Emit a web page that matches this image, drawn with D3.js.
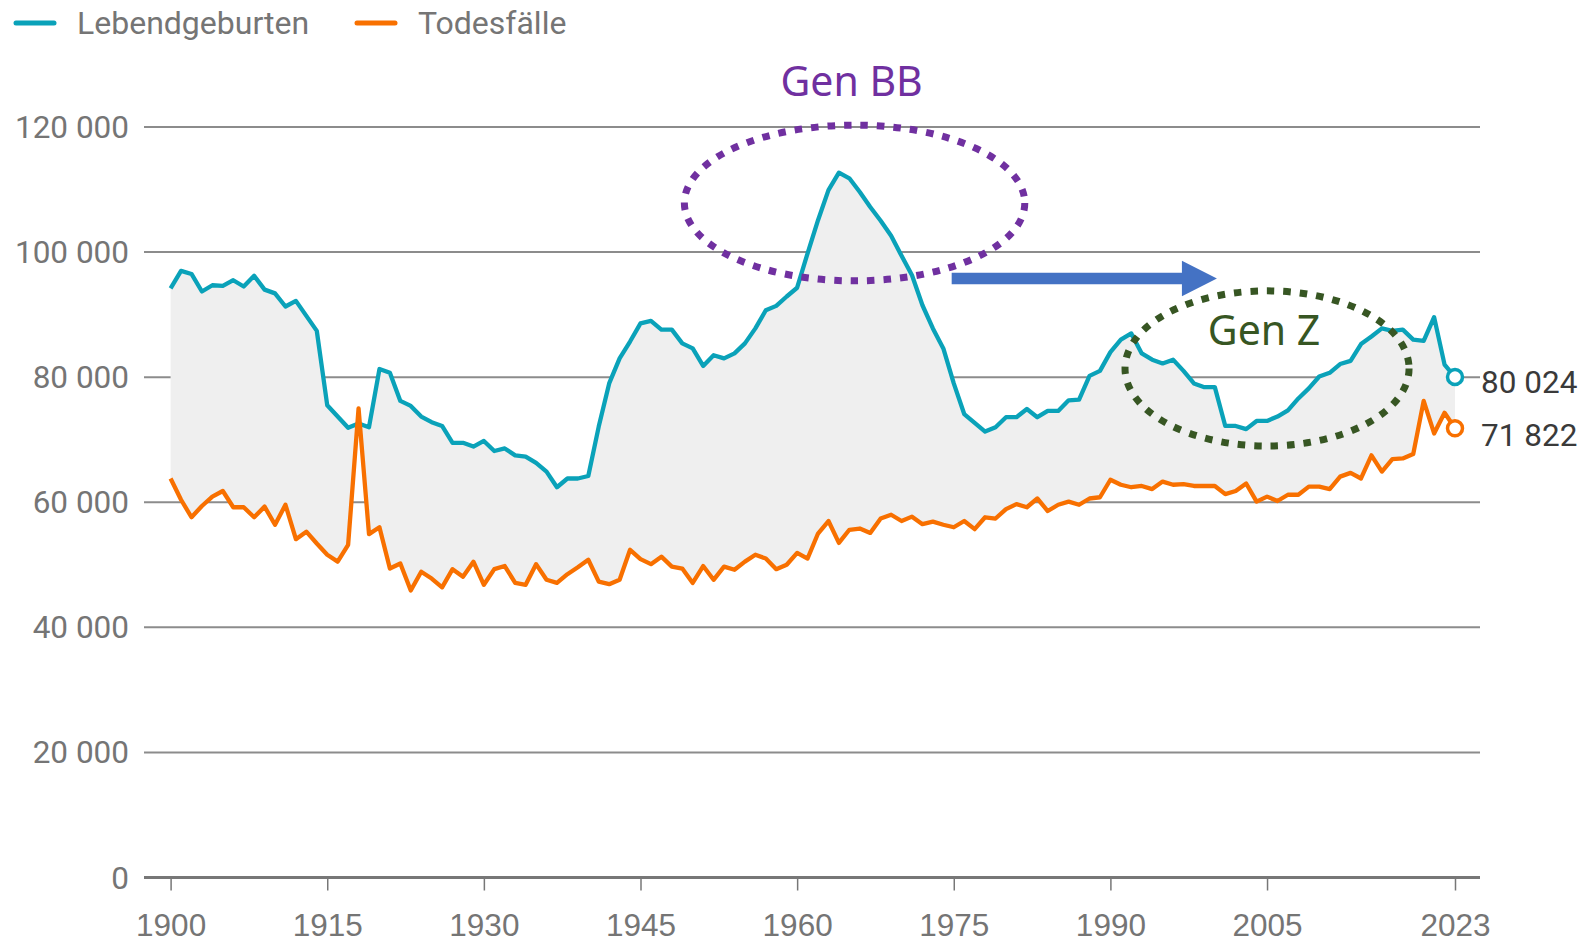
<!DOCTYPE html>
<html>
<head>
<meta charset="utf-8">
<script src="https://cdn.jsdelivr.net/npm/d3@7"></script>
<style>
  body { margin: 0; background: #fff; }
  svg { display: block; font-family: Roboto, "Noto Sans", sans-serif; }
  .grid line { stroke: #8c8c8c; stroke-width: 2; }
  .tick-label { fill: #757575; font-size: 31.5px; }
</style>
</head>
<body>
<svg id="chart" width="1583" height="942"></svg>
<script>
'use strict';

// Lebendgeburten / Todesfälle, 1900 - 2023
var firstYear = 1900, lastYear = 2023;
var seriesNames = ["Lebendgeburten", "Todesfälle"];
var xTicks = [1900, 1915, 1930, 1945, 1960, 1975, 1990, 2005, 2023];
var yTicks = [0, 20000, 40000, 60000, 80000, 100000, 120000];

var births = [
  94200, 97000, 96500, 93700, 94700, 94600, 95500, 94500, 96200, 94000,
  93400, 91300, 92200, 89800, 87400, 75500, 73700, 71900, 72600, 72000,
  81300, 80700, 76200, 75400, 73700, 72800, 72200, 69500, 69500, 68900,
  69800, 68200, 68600, 67500, 67300, 66300, 64900, 62400, 63800, 63800,
  64200, 72100, 79000, 83000, 85700, 88600, 89000, 87600, 87600, 85400,
  84600, 81800, 83500, 83000, 83800, 85400, 87800, 90700, 91400, 92900,
  94300, 99800, 105100, 109900, 112700, 111800, 109600, 107200, 105000, 102600,
  99400, 96300, 91500, 87800, 84600, 79000, 74100, 72700, 71300, 72000,
  73600, 73600, 74900, 73600, 74600, 74600, 76300, 76400, 80200, 81000,
  84000, 86000, 87000, 83800, 82800, 82200, 82800, 81000, 79000, 78400,
  78400, 72200, 72200, 71700, 73000, 73000, 73700, 74700, 76600, 78200,
  80100, 80700, 82100, 82600, 85300, 86500, 87800, 87400, 87600, 86000,
  85800, 89600, 82000, 80024
];

var deaths = [
  63800, 60400, 57600, 59400, 60900, 61800, 59200, 59200, 57600, 59300,
  56400, 59600, 54100, 55300, 53400, 51600, 50500, 53200, 75000, 54900,
  56000, 49400, 50200, 45900, 48900, 47800, 46400, 49300, 48100, 50500,
  46800, 49300, 49800, 47100, 46800, 50100, 47600, 47100, 48500, 49600,
  50800, 47300, 46900, 47600, 52400, 50900, 50100, 51300, 49700, 49400,
  47100, 49800, 47600, 49700, 49200, 50500, 51600, 51000, 49300, 50000,
  51900, 51000, 55000, 57000, 53500, 55600, 55800, 55100, 57400, 58000,
  57000, 57700, 56500, 56900, 56400, 56000, 57000, 55700, 57600, 57400,
  58900, 59700, 59200, 60600, 58600, 59600, 60100, 59600, 60600, 60800,
  63600, 62800, 62400, 62600, 62100, 63300, 62800, 62900, 62600, 62600,
  62600, 61300, 61800, 63000, 60100, 60900, 60200, 61200, 61200, 62500,
  62500, 62100, 64100, 64700, 63800, 67500, 64900, 66900, 67000, 67700,
  76200, 71000, 74300, 71822
];

var colors = ["#0aa2b9", "#f87000"];

// annotations
var genBB = {label: "Gen BB", color: "#7030a0", from: 1949.2, to: 1981.8, top: 120300, bottom: 95400};
var genZ = {label: "Gen Z", color: "#375623", from: 1991.4, to: 2018.6, top: 93800, bottom: 69000};
var arrowSpan = [1974.8, 2000.2];

var years = d3.range(firstYear, lastYear + 1);
var data = years.map(function (yr, i) {
  return {year: yr, b: births[i], d: deaths[i]};
});

var margin = {top: 127, right: 128, bottom: 64.5, left: 170.6};
var W = 1583, H = 942;
var svg = d3.select("#chart");

var x = d3.scaleLinear()
  .domain([firstYear, lastYear])
  .range([margin.left, W - margin.right]);
var y = d3.scaleLinear()
  .domain([0, 120000])
  .range([H - margin.bottom, margin.top]);

var gridX0 = 144, gridX1 = 1480;

// gridlines
var grid = svg.append("g").attr("class", "grid");
grid.selectAll("line")
  .data(yTicks.filter(function (t) { return t > 0; }))
  .enter().append("line")
  .attr("x1", gridX0).attr("x2", gridX1)
  .attr("y1", function (d) { return y(d); })
  .attr("y2", function (d) { return y(d); });

// y labels
svg.append("g").selectAll("text")
  .data(yTicks)
  .enter().append("text")
  .attr("class", "tick-label")
  .attr("x", 129)
  .attr("y", function (d) { return y(d); })
  .attr("dy", "0.35em")
  .attr("text-anchor", "end")
  .text(function (d) { return d3.format(",")(d).replace(/,/g, " "); });

// band between the two series
svg.append("path")
  .datum(data)
  .attr("fill", "#efefef")
  .attr("d", d3.area()
    .x(function (d) { return x(d.year); })
    .y0(function (d) { return y(d.d); })
    .y1(function (d) { return y(d.b); }));

// baseline + x axis
var xAxis = d3.axisBottom(x)
  .tickValues(xTicks)
  .tickFormat(d3.format("d"))
  .tickSize(13)
  .tickPadding(23);
var gx = svg.append("g")
  .attr("transform", "translate(0," + y(0) + ")")
  .call(xAxis);
gx.select(".domain").remove();
gx.selectAll(".tick line").attr("stroke", "#777").attr("stroke-width", 1.5);
gx.selectAll(".tick text")
  .attr("class", "tick-label")
  .attr("font-family", null)
  .attr("font-size", null);
svg.append("line")
  .attr("x1", gridX0).attr("x2", gridX1)
  .attr("y1", y(0)).attr("y2", y(0))
  .attr("stroke", "#777").attr("stroke-width", 3);

// lines
var keys = ["b", "d"];
keys.forEach(function (k, i) {
  svg.append("path")
    .datum(data)
    .attr("fill", "none")
    .attr("stroke", colors[i])
    .attr("stroke-width", 4.3)
    .attr("stroke-linejoin", "round")
    .attr("d", d3.line()
      .x(function (d) { return x(d.year); })
      .y(function (d) { return y(d[k]); }));
});

// end markers and labels
var last = data[data.length - 1];
var labelShift = [5, 7];
keys.forEach(function (k, i) {
  svg.append("circle")
    .attr("cx", x(last.year))
    .attr("cy", y(last[k]))
    .attr("r", 7.5)
    .attr("fill", "#fff")
    .attr("stroke", colors[i])
    .attr("stroke-width", 3.5);
  svg.append("text")
    .attr("x", 1481)
    .attr("y", y(last[k]) + labelShift[i])
    .attr("dy", "0.35em")
    .attr("fill", "#3a3a3a")
    .attr("font-size", 31.5)
    .text(d3.format(",")(last[k]).replace(/,/g, " "));
});

// legend
var legendX = [14, 355];
var legend = svg.append("g").selectAll("g")
  .data(seriesNames)
  .enter().append("g")
  .attr("transform", function (d, i) { return "translate(" + legendX[i] + ",23)"; });
legend.append("line")
  .attr("x1", 2).attr("x2", 40)
  .attr("stroke", function (d, i) { return colors[i]; })
  .attr("stroke-width", 5)
  .attr("stroke-linecap", "round");
legend.append("text")
  .attr("x", 63)
  .attr("dy", "0.35em")
  .attr("fill", "#757575")
  .attr("font-size", 32)
  .text(function (d) { return d; });

// dotted ellipses with labels
function genEllipse(g, labelY) {
  var cx = (x(g.from) + x(g.to)) / 2, cy = (y(g.top) + y(g.bottom)) / 2;
  svg.append("ellipse")
    .attr("cx", cx).attr("cy", cy)
    .attr("rx", (x(g.to) - x(g.from)) / 2)
    .attr("ry", (y(g.bottom) - y(g.top)) / 2)
    .attr("fill", "none")
    .attr("stroke", g.color)
    .attr("stroke-width", 7)
    .attr("stroke-dasharray", "7.5,9");
  svg.append("text")
    .attr("x", cx - 3)
    .attr("y", labelY)
    .attr("dy", "0.35em")
    .attr("text-anchor", "middle")
    .attr("fill", g.color)
    .attr("font-family", "'Noto Sans', 'Open Sans', sans-serif")
    .attr("font-size", 41)
    .text(g.label);
}
genEllipse(genBB, 82);
genEllipse(genZ, 331);

// arrow BB -> Z
var ax0 = x(arrowSpan[0]), ax1 = x(arrowSpan[1]), ay = 278.5;
svg.append("path")
  .attr("fill", "#4472c4")
  .attr("d", "M" + ax0 + "," + (ay - 5.7) +
    "L" + (ax1 - 35) + "," + (ay - 5.7) +
    "L" + (ax1 - 35) + "," + (ay - 17.7) +
    "L" + ax1 + "," + ay +
    "L" + (ax1 - 35) + "," + (ay + 17.7) +
    "L" + (ax1 - 35) + "," + (ay + 5.7) +
    "L" + ax0 + "," + (ay + 5.7) + "Z");
</script>
</body>
</html>
